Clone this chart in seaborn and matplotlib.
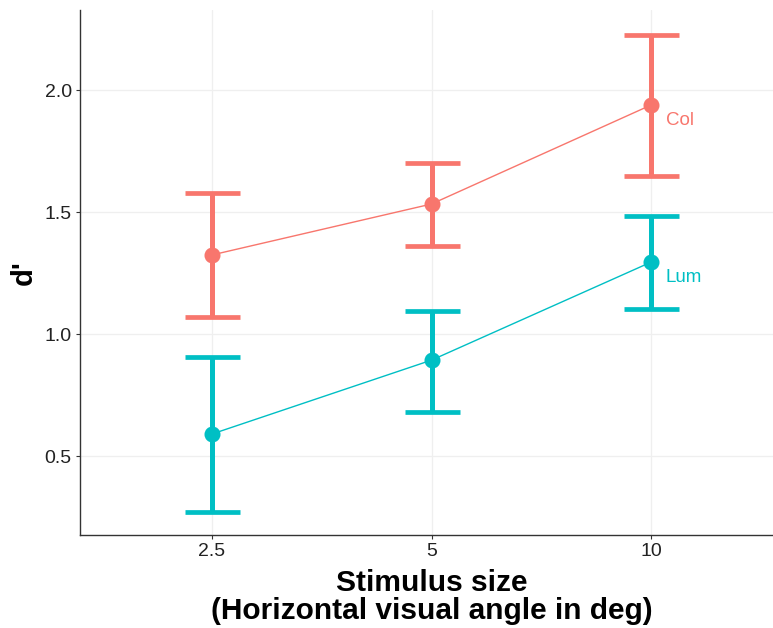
import matplotlib
matplotlib.use("Agg")
import matplotlib.pyplot as plt
import seaborn as sns
import pandas as pd
import numpy as np

sizes = ["2.5", "5", "10"]
col_mean = [1.324, 1.533, 1.939]
col_lo = [1.070, 1.361, 1.648]
col_hi = [1.578, 1.700, 2.225]
lum_mean = [0.590, 0.893, 1.295]
lum_lo = [0.270, 0.680, 1.102]
lum_hi = [0.906, 1.094, 1.484]
conditions = ["Col", "Lum"]
colors = {"Col": "#F8766D", "Lum": "#00BFC4"}

df = pd.DataFrame({
    "size": sizes * 2,
    "d": col_mean + lum_mean,
    "lo": col_lo + lum_lo,
    "hi": col_hi + lum_hi,
    "cond": ["Col"] * 3 + ["Lum"] * 3,
})

sns.set_theme(style="whitegrid")
plt.rcParams['font.family'] = ['Liberation Sans', 'DejaVu Sans']

fig = plt.figure(figsize=(7.73, 6.28), dpi=100)
ax = fig.add_axes([0.1035, 0.148, 0.9095, 0.836])

sns.pointplot(data=df, x="size", y="d", hue="cond", order=sizes,
              palette=colors, markers="o", linestyles="-", errorbar=None,
              ax=ax, legend=False)
for line in ax.lines:
    line.set_linewidth(1.0)
    line.set_markersize(9.5)

for cond in conditions:
    sub = df[df.cond == cond]
    xs = np.arange(len(sizes))
    ax.errorbar(xs, sub.d.values,
                yerr=[sub.d.values - sub.lo.values, sub.hi.values - sub.d.values],
                fmt="none", ecolor=colors[cond], elinewidth=3.6,
                capsize=19.8, capthick=3.4, zorder=3)
    ax.annotate(cond, xy=(xs[-1], sub.d.values[-1]), xytext=(10.5, -11),
                textcoords="offset points", color=colors[cond], fontsize=13.5,
                ha="left", va="center")

ax.set_xlim(-0.6, 2.6)
ax.set_ylim(0.176, 2.328)
ax.set_yticks([0.5, 1.0, 1.5, 2.0])
ax.set_yticklabels(["0.5", "1.0", "1.5", "2.0"])

ax.set_facecolor("white")
ax.grid(True, color="#EFEFEF", linewidth=0.9)
for s in ["top", "right"]:
    ax.spines[s].set_visible(False)
for s in ["left", "bottom"]:
    ax.spines[s].set_visible(True)
    ax.spines[s].set_color("#333333")
    ax.spines[s].set_linewidth(1.0)

ax.tick_params(axis="both", which="both", length=3.0, width=0.8, color="#333333",
               labelsize=14, labelcolor="#222222", pad=3, bottom=True, left=True)

ax.set_xlabel("Stimulus size\n(Horizontal visual angle in deg)", fontsize=21.5,
              fontweight="bold", color="black", labelpad=6, linespacing=1.0)
ax.set_ylabel("d'", fontsize=21, fontweight="bold", color="black", labelpad=5)

fig.savefig("out.png", dpi=100, facecolor="white")
